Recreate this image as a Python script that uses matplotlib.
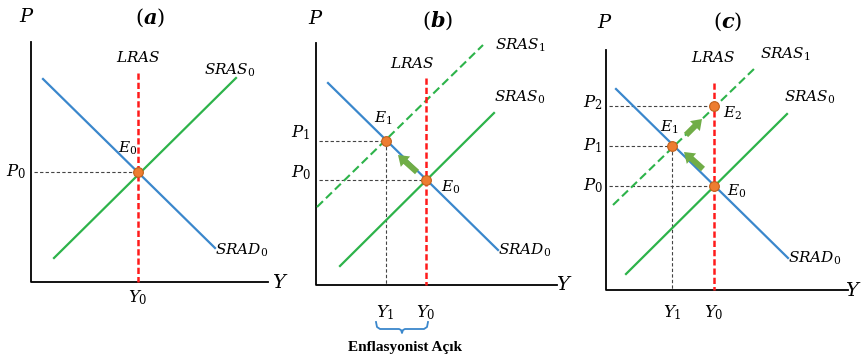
import numpy as np
import matplotlib
matplotlib.use("Agg")
import matplotlib.pyplot as plt

plt.rcParams['mathtext.fontset'] = 'dejavuserif'

# colours
blue = '#3a87cc'
green = '#2db34a'
red = '#ff1a1a'
dot_face = '#ed7d31'
dot_edge = '#c0601c'
arrow_green = '#70ad47'

# ---- data (figure pixel coords, y down) ----
panels = ['a', 'b', 'c']
axis_origin = {'a': (31, 282), 'b': (316, 285), 'c': (606, 290)}
axis_top = {'a': 42, 'b': 43, 'c': 50}
axis_right = {'a': 268, 'b': 557, 'c': 848}

srad0 = {'a': [(43, 79), (215, 248)], 'b': [(328, 83), (498, 250)], 'c': [(616, 89), (788, 258)]}
sras0 = {'a': [(54, 258), (236, 78)], 'b': [(340, 266), (494, 113)], 'c': [(626, 274), (787, 114)]}
sras1 = {'b': [(317, 207), (483, 45)], 'c': [(613, 205), (755, 68)]}
lras_x = {'a': 138, 'b': 426, 'c': 714}
lras_top = {'a': 73, 'b': 78, 'c': 83}

# equilibrium points
eq_points = {'a': [(138, 172)],
             'b': [(386, 141), (426, 180)],
             'c': [(672, 146), (714, 106), (714, 186)]}
# horizontal guides to P axis, vertical guides to Y axis
p_guides = {'a': [172], 'b': [141, 180], 'c': [106, 146, 186]}
p_guide_end = {'a': [138], 'b': [386, 426], 'c': [714, 672, 714]}
y_guides = {'a': [], 'b': [(386, 141)], 'c': [(672, 146)]}

# arrows (tail -> head)
shift_arrows = {'b': [((417, 172), (398, 155))],
                'c': [((703, 169), (684, 152)), ((686, 135), (702, 119))]}

# labels: text, x, y
title_labels = [(r'$(\mathbfit{a})$', 150, 18), (r'$(\mathbfit{b})$', 438, 21), (r'$(\mathbfit{c})$', 728, 22)]
axis_labels = [('P', 27, 16), ('Y', 280, 282),
               ('P', 316, 18), ('Y', 564, 285),
               ('P', 605, 22), ('Y', 853, 290)]
curve_labels = [('LRAS', 138, 57), ('SRAS_0', 230, 70), ('SRAD_0', 242, 250), ('E_0', 128, 148),
                ('LRAS', 412, 63), ('SRAS_1', 520, 45), ('SRAS_0', 520, 97), ('SRAD_0', 525, 250),
                ('E_1', 383, 118), ('E_0', 451, 187),
                ('LRAS', 713, 58), ('SRAS_1', 785, 54), ('SRAS_0', 810, 97), ('SRAD_0', 815, 258),
                ('E_2', 733, 113), ('E_1', 669, 127), ('E_0', 737, 191)]
tick_labels = [('P_0', 16, 172), ('Y_0', 138, 298),
               ('P_1', 301, 133), ('P_0', 301, 173), ('Y_1', 385, 313), ('Y_0', 426, 313),
               ('P_2', 593, 103), ('P_1', 593, 146), ('P_0', 593, 186), ('Y_1', 672, 313), ('Y_0', 714, 313)]
gap_label = ('Enflasyonist Açık', 405, 347)
brace = (376, 428, 322)

fig = plt.figure(figsize=(8.61, 3.58), dpi=100)
ax = fig.add_axes([0, 0, 1, 1])
ax.set_xlim(0, 861)
ax.set_ylim(358, 0)
ax.axis('off')

for p in panels:
    ox, oy = axis_origin[p]
    ax.plot([ox, ox, axis_right[p]], [axis_top[p], oy, oy], color='black', lw=1.3, zorder=2)
    # guides
    for py, ex in zip(p_guides[p], p_guide_end[p]):
        ax.plot([ox + 3, ex], [py, py], color='#444444', lw=0.8, ls=(0, (3, 2)), zorder=1)
    for gx, gy in y_guides[p]:
        ax.plot([gx, gx], [gy, oy], color='#444444', lw=0.8, ls=(0, (3, 2)), zorder=1)
    (x1, y1), (x2, y2) = sras0[p]
    ax.plot([x1, x2], [y1, y2], color=green, lw=1.6, zorder=3)
    if p in sras1:
        (x1, y1), (x2, y2) = sras1[p]
        ax.plot([x1, x2], [y1, y2], color=green, lw=1.5, ls=(0, (4, 2)), zorder=3)
    (x1, y1), (x2, y2) = srad0[p]
    ax.plot([x1, x2], [y1, y2], color=blue, lw=1.6, zorder=3)
    ax.plot([lras_x[p], lras_x[p]], [lras_top[p], oy], color=red, lw=1.8,
            ls=(0, (2.5, 1.2)), zorder=4)
    xs, ys = zip(*eq_points[p])
    ax.plot(xs, ys, 'o', ms=7, mfc=dot_face, mec=dot_edge, mew=0.8, zorder=5)
    for (tx, ty), (hx, hy) in shift_arrows.get(p, []):
        ax.arrow(tx, ty, hx - tx, hy - ty, width=6, head_width=14, head_length=10,
                 length_includes_head=True, color=arrow_green, lw=0, zorder=5)

for txt, x, y in title_labels:
    ax.text(x, y, txt, fontsize=15, ha='center', va='center')
for txt, x, y in axis_labels:
    ax.text(x, y, '$' + txt + '$', fontsize=14, ha='center', va='center')
for txt, x, y in curve_labels:
    ax.text(x, y, '$' + txt + '$', fontsize=11, ha='center', va='center')
for txt, x, y in tick_labels:
    ax.text(x, y, '$' + txt + '$', fontsize=12, ha='center', va='center')

# brace under Y1..Y0
bl, br, by = brace
bm = (bl + br) / 2
bx = [bl, bl + 1, bl + 4, bm - 3, bm - 1, bm, bm + 1, bm + 3, br - 4, br - 1, br]
byy = [by, by + 5, by + 7, by + 7, by + 8, by + 11, by + 8, by + 7, by + 7, by + 5, by]
ax.plot(bx, byy, color=blue, lw=1.3)
ax.text(gap_label[1], gap_label[2], gap_label[0], fontsize=11, fontweight='bold',
        family='Liberation Serif', ha='center', va='center')

fig.savefig('out.png', dpi=100)
